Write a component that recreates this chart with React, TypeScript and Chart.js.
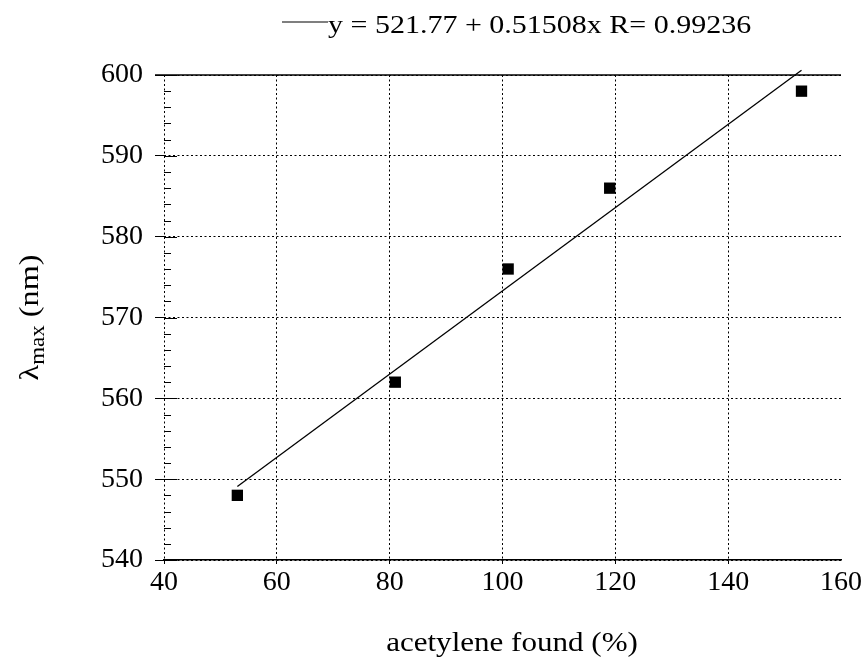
import React, { useEffect, useRef } from "react";
import { Chart, registerables } from "chart.js";

Chart.register(...registerables);

const acetyleneFound = [53, 81, 101, 119, 153];
const lambdaMax = [548, 562, 576, 586, 598];
const fitX = [53, 153];
const fitY = [549.1, 600.6];
const xTicks = [40, 60, 80, 100, 120, 140, 160];
const yTicks = [540, 550, 560, 570, 580, 590, 600];
const fitLabel = "y = 521.77 + 0.51508x R= 0.99236";
const xTitle = "acetylene found (%)";

const SERIF = "'Liberation Serif', 'Times New Roman', serif";

const decorPlugin = {
  id: "decor",
  afterDraw(chart: any) {
    const { ctx, chartArea, scales } = chart;
    const ys = scales.y;
    ctx.save();
    ctx.strokeStyle = "#000";
    ctx.fillStyle = "#000";
    ctx.setLineDash([]);
    // top border
    const yTop = ys.getPixelForValue(yTicks[yTicks.length - 1]);
    ctx.lineWidth = 1.5;
    ctx.beginPath();
    ctx.moveTo(chartArea.left - 9, yTop);
    ctx.lineTo(chartArea.right, yTop);
    ctx.stroke();
    // inward ticks on y axis
    ctx.lineWidth = 1;
    const yMin = yTicks[0];
    const yMax = yTicks[yTicks.length - 1];
    for (let v = yMin; v <= yMax; v += 2) {
      const p = Math.round(ys.getPixelForValue(v)) + 0.5;
      const major = (v - yMin) % 10 === 0;
      ctx.beginPath();
      ctx.moveTo(chartArea.left, p);
      ctx.lineTo(chartArea.left + (major ? 13 : 7), p);
      ctx.stroke();
    }
    // legend
    ctx.lineWidth = 1.2;
    ctx.beginPath();
    ctx.moveTo(282, 22);
    ctx.lineTo(328, 22);
    ctx.stroke();
    ctx.save();
    ctx.font = `25px ${SERIF}`;
    ctx.textBaseline = "alphabetic";
    ctx.textAlign = "left";
    ctx.translate(328, 33);
    ctx.scale(1.2, 1);
    ctx.fillText(fitLabel, 0, 0);
    ctx.restore();
    // x title
    ctx.save();
    ctx.font = `27px ${SERIF}`;
    ctx.textAlign = "center";
    ctx.textBaseline = "alphabetic";
    ctx.translate(512, 651);
    ctx.scale(1.15, 1);
    ctx.fillText(xTitle, 0, 0);
    ctx.restore();
    // y title: λmax (nm)
    ctx.save();
    const big = `28px ${SERIF}`;
    const small = `20px ${SERIF}`;
    ctx.font = big;
    const w1 = ctx.measureText("\u03bb").width;
    const w3 = ctx.measureText(" (nm)").width;
    ctx.font = small;
    const w2 = ctx.measureText("max").width;
    const total = w1 + w2 + w3;
    const cy = (chartArea.top + chartArea.bottom) / 2;
    ctx.translate(38, cy);
    ctx.rotate(-Math.PI / 2);
    ctx.scale(1.15, 1);
    ctx.textBaseline = "alphabetic";
    ctx.textAlign = "left";
    let x0 = -total / 2;
    ctx.font = big;
    ctx.fillText("\u03bb", x0, 0);
    x0 += w1;
    ctx.font = small;
    ctx.fillText("max", x0, 6);
    x0 += w2;
    ctx.font = big;
    ctx.fillText(" (nm)", x0, 0);
    ctx.restore();
    ctx.restore();
  },
};

export default function App() {
  const ref = useRef<HTMLCanvasElement | null>(null);
  useEffect(() => {
    document.body.style.margin = "0";
    const canvas = ref.current;
    if (!canvas) return;
    const chart = new Chart(canvas, {
      type: "scatter",
      data: {
        datasets: [
          {
            label: "data",
            data: acetyleneFound.map((x, i) => ({ x, y: lambdaMax[i] })),
            pointStyle: "rect",
            pointRadius: 8,
            pointHoverRadius: 8,
            backgroundColor: "#000",
            borderColor: "#000",
            borderWidth: 0,
            showLine: false,
          },
          {
            label: fitLabel,
            data: fitX.map((x, i) => ({ x, y: fitY[i] })),
            showLine: true,
            pointRadius: 0,
            borderColor: "#000",
            borderWidth: 1.3,
            clip: false as any,
          } as any,
        ],
      },
      plugins: [decorPlugin],
      options: {
        responsive: false,
        animation: false,
        layout: { padding: { top: 75, right: 18, left: 0, bottom: 0 } },
        plugins: {
          legend: { display: false },
          tooltip: { enabled: false },
          title: { display: false },
        },
        scales: {
          x: {
            type: "linear",
            min: xTicks[0],
            max: xTicks[xTicks.length - 1],
            afterFit: (s: any) => {
              s.height = 105;
            },
            afterBuildTicks: (s: any) => {
              s.ticks = xTicks.map((v) => ({ value: v }));
            },
            ticks: {
              color: "#000",
              font: { family: SERIF, size: 28 },
              padding: 2,
              maxRotation: 0,
              autoSkip: false,
            },
            grid: {
              color: (c: any) =>
                c.tick && c.tick.value === xTicks[xTicks.length - 1] ? "rgba(0,0,0,0)" : "#000",
              lineWidth: 1,
              tickLength: 4,
              tickColor: (c: any) =>
                c.tick && c.tick.value === xTicks[xTicks.length - 1] ? "rgba(0,0,0,0)" : "#000",
              tickWidth: 1,
              tickBorderDash: [],
            },
            border: { display: true, color: "#000", width: 1.5, dash: [2, 2.5] },
          },
          y: {
            type: "linear",
            min: yTicks[0],
            max: yTicks[yTicks.length - 1],
            afterFit: (s: any) => {
              s.width = 164;
            },
            afterBuildTicks: (s: any) => {
              s.ticks = yTicks.map((v) => ({ value: v }));
            },
            ticks: {
              color: "#000",
              font: { family: SERIF, size: 28 },
              padding: 12,
              autoSkip: false,
            },
            grid: {
              color: "#000",
              lineWidth: 1,
              tickLength: 9,
              tickColor: "#000",
              tickWidth: 1,
              tickBorderDash: [],
            },
            border: { display: false, dash: [2, 2.5] },
          },
        },
      },
    });
    return () => chart.destroy();
  }, []);
  return (
    <div style={{ position: "fixed", left: 0, top: 0, width: 864, height: 665, background: "#fff" }}>
      <canvas ref={ref} width={864} height={665} style={{ display: "block" }} />
    </div>
  );
}
